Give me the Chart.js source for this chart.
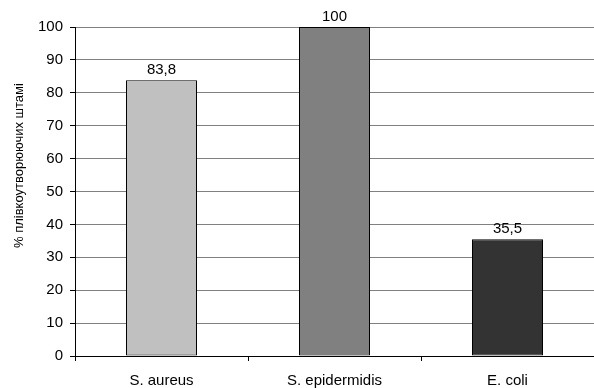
<!DOCTYPE html>
<html>
<head>
<meta charset="utf-8">
<script src="https://cdn.jsdelivr.net/npm/chart.js@4"></script>
<style>
  html, body { margin: 0; padding: 0; background: #fff; }
  #wrap { width: 594px; height: 388px; }
</style>
</head>
<body>
<div id="wrap"><canvas id="grafico" width="594" height="388"></canvas></div>
<script>
const categorias = ["S. aureus", "S. epidermidis", "E. coli"];
const valores = [83.8, 100, 35.5];
const colores = ["#c0c0c0", "#808080", "#333333"];
const tituloY = "% плівкоутворюючих штамів";

const FUENTE = "'Liberation Sans', Arial, sans-serif";

// etiquetas encima de las barras, con coma decimal
const etiquetas = {
  id: "etiquetas",
  afterDatasetsDraw(chart) {
    const ctx = chart.ctx;
    const meta = chart.getDatasetMeta(0);
    ctx.save();
    ctx.font = "15px " + FUENTE;
    ctx.fillStyle = "#000";
    ctx.textAlign = "center";
    ctx.textBaseline = "bottom";
    meta.data.forEach((bar, i) => {
      ctx.fillText(String(valores[i]).replace(".", ","), bar.x, bar.y - 3);
    });
    ctx.restore();
  },
};

// titulo del eje Y (recortado arriba como en el original)
const tituloEje = {
  id: "tituloEje",
  afterDraw(chart) {
    const ctx = chart.ctx;
    ctx.save();
    ctx.beginPath();
    ctx.rect(0, 83, 40, 300);
    ctx.clip();
    ctx.translate(19, 248);
    ctx.rotate(-Math.PI / 2);
    ctx.font = "13px " + FUENTE;
    ctx.fillStyle = "#000";
    ctx.textAlign = "left";
    ctx.textBaseline = "middle";
    ctx.fillText(tituloY, 0, 0);
    ctx.restore();
  },
};

new Chart(document.getElementById("grafico").getContext("2d"), {
  type: "bar",
  data: {
    labels: categorias,
    datasets: [
      {
        data: valores,
        backgroundColor: colores,
        borderColor: "#000",
        borderWidth: 1,
        borderSkipped: false,
        categoryPercentage: 1,
        barPercentage: 71 / 173,
      },
    ],
  },
  options: {
    responsive: false,
    animation: false,
    layout: { padding: { top: 27, right: 0, bottom: 0, left: 0 } },
    plugins: {
      legend: { display: false },
      tooltip: { enabled: false },
    },
    scales: {
      x: {
        offset: true,
        grid: {
          offset: true,
          drawOnChartArea: false,
          color: "#000",
          tickLength: 5,
        },
        border: { color: "#000", width: 1 },
        ticks: { color: "#000", font: { family: FUENTE, size: 15 }, padding: 11, maxRotation: 0 },
        afterFit(scale) {
          scale.height = 32;
        },
      },
      y: {
        min: 0,
        max: 100,
        ticks: { stepSize: 10, color: "#000", font: { family: FUENTE, size: 15 }, padding: 7 },
        grid: { color: "#808080", tickColor: "#000", tickLength: 5 },
        border: { color: "#000", width: 1 },
        afterFit(scale) {
          scale.width = 75;
        },
      },
    },
  },
  plugins: [etiquetas, tituloEje],
});
</script>
</body>
</html>
